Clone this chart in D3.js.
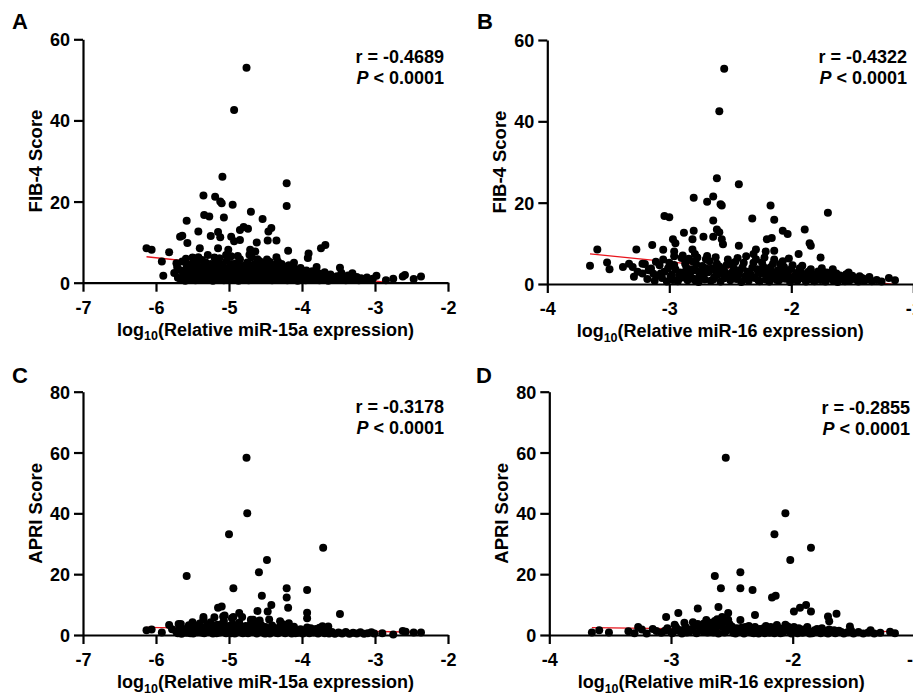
<!DOCTYPE html>
<html><head><meta charset="utf-8">
<script src="https://cdn.jsdelivr.net/npm/d3@7"></script>
<style>body{margin:0;background:#fff}svg{display:block}text{font-family:"Liberation Sans",Arial,sans-serif;font-weight:bold;fill:#000}</style>
</head><body>
<svg id="c" width="913" height="699"></svg>
<script>
// ---------- DATA ----------
const panelLabels = ["A","B","C","D"];
const yTitles = ["FIB-4 Score","FIB-4 Score","APRI Score","APRI Score"];
const xGenes = ["miR-15a","miR-16","miR-15a","miR-16"];
const rValues = ["-0.4689","-0.4322","-0.3178","-0.2855"];
const pText = "< 0.0001";
const xDomainsA = [-7,-2], xDomainsB = [-4,-1];
const xTicks15a = [-7,-6,-5,-4,-3,-2];
const xTicks16 = [-4,-3,-2,-1];
const yTicksFib = [0,20,40,60];
const yTicksApri = [0,20,40,60,80];

// fitted regression line end points [x,y]
const fitA = [[-6.13,6.4],[-2.37,-0.8]];
const fitB = [[-3.65,7.4],[-1.15,-0.1]];
const fitC = [[-6.13,2.5],[-2.37,0.9]];
const fitD = [[-3.65,2.4],[-1.16,1.1]];

const pointsA = [
[-4.76,53.0],[-4.93,42.6],[-5.09,26.1],[-4.21,24.5],[-4.21,18.9],[-5.35,21.5],[-5.19,21.2],[-5.12,20.0],[-4.95,19.2],[-5.10,19.6],
[-4.70,17.5],[-5.34,16.7],[-5.27,16.3],[-5.07,16.1],[-4.54,15.7],[-5.58,15.3],[-5.42,12.6],[-5.15,12.5],[-4.85,13.0],[-4.74,13.3],
[-4.80,13.7],[-4.42,13.5],[-4.46,12.6],[-5.67,11.3],[-5.64,11.6],[-5.25,11.5],[-5.12,11.2],[-4.97,11.3],[-4.93,10.2],[-4.85,10.5],
[-4.62,9.9],[-4.47,10.4],[-4.35,10.4],[-5.57,9.8],[-6.13,8.5],[-6.06,8.1],[-5.82,7.5],[-5.40,8.5],[-5.15,8.5],[-5.01,8.1],
[-4.71,8.1],[-4.64,7.7],[-4.19,7.9],[-3.68,9.3],[-3.74,8.5],[-3.91,7.2],[-3.92,6.1],[-4.35,6.3],[-5.92,5.2],[-5.90,1.7],
[-3.80,3.9],[-3.48,3.7],[-2.75,1.0],[-2.59,1.9],[-2.47,0.9],[-2.37,1.5],[-2.98,1.7],[-2.62,1.5],[-2.85,0.6],
[-5.75,2.4],[-5.72,4.8],[-5.70,1.2],[-5.68,3.1],[-5.66,0.8],[-5.64,5.2],[-5.62,2.0],[-5.60,0.5],[-5.58,3.8],[-5.57,1.5],
[-5.55,4.4],[-5.54,0.9],[-5.52,2.7],[-5.50,6.2],[-5.49,1.8],[-5.47,3.4],[-5.46,0.6],[-5.44,4.9],[-5.43,2.2],[-5.41,1.1],
[-5.40,3.9],[-5.38,0.7],[-5.37,5.6],[-5.36,2.9],[-5.34,1.6],[-5.33,4.2],[-5.31,0.9],[-5.30,3.2],[-5.29,6.8],[-5.27,2.1],
[-5.26,1.0],[-5.25,4.6],[-5.23,2.8],[-5.22,0.5],[-5.21,3.6],[-5.19,1.4],[-5.18,5.1],[-5.17,2.4],[-5.15,0.8],[-5.14,3.8],
[-5.13,6.0],[-5.11,1.7],[-5.10,2.9],[-5.09,4.4],[-5.07,0.6],[-5.06,3.3],[-5.05,1.9],[-5.03,5.4],[-5.02,2.5],[-5.01,0.9],
[-4.99,4.0],[-4.98,1.3],[-4.97,6.5],[-4.95,2.7],[-4.94,0.7],[-4.93,3.5],[-4.91,1.6],[-4.90,4.8],[-4.89,2.2],[-4.87,0.5],
[-4.86,3.0],[-4.85,5.8],[-4.83,1.2],[-4.82,2.6],[-4.81,4.1],[-4.79,0.8],[-4.78,3.4],[-4.77,1.8],[-4.75,5.0],[-4.74,2.3],
[-4.73,0.6],[-4.71,3.7],[-4.70,1.4],[-4.69,6.3],[-4.67,2.0],[-4.66,4.5],[-4.65,0.9],[-4.63,2.9],[-4.62,1.5],[-4.60,3.9],
[-4.59,0.7],[-4.58,5.3],[-4.56,2.4],[-4.55,1.1],[-4.53,3.2],[-4.52,4.6],[-4.50,0.8],[-4.49,2.1],[-4.47,3.6],[-4.46,1.3],
[-4.44,5.1],[-4.43,2.5],[-4.41,0.6],[-4.40,3.0],[-4.38,1.7],[-4.37,4.2],[-4.35,0.9],[-4.34,2.6],[-4.32,1.4],[-4.30,3.5],
[-4.29,0.7],[-4.27,2.2],[-4.25,4.0],[-4.24,1.1],[-4.22,2.8],[-4.20,0.6],[-4.19,3.3],[-4.17,1.6],[-4.15,2.4],[-4.14,0.8],
[-4.12,3.8],[-4.10,1.3],[-4.08,2.0],[-4.06,0.5],[-4.05,2.9],[-4.03,1.5],[-4.01,0.9],[-3.99,2.3],[-3.97,1.2],[-3.95,0.6],
[-3.93,1.9],[-3.91,1.0],[-3.89,2.6],[-3.87,0.7],[-3.85,1.5],[-3.83,0.9],[-3.81,2.1],[-3.79,1.2],[-3.76,0.6],[-3.74,1.7],
[-3.71,0.9],[-3.69,2.6],[-3.66,1.1],[-3.64,0.5],[-3.61,2.0],[-3.58,1.3],[-3.55,0.7],[-3.52,1.6],[-3.49,0.9],[-3.46,2.4],
[-3.43,1.2],[-3.40,0.6],[-3.37,1.8],[-3.34,1.0],[-3.31,2.3],[-3.28,0.8],[-3.25,1.4],[-3.22,0.6],[-3.19,1.1],[-3.15,0.8],
[-3.11,1.3],[-3.07,0.7],[-3.03,1.0],
[-5.71,3.9],[-5.63,2.9],[-5.59,5.9],[-5.56,2.2],[-5.51,3.8],[-5.48,5.3],[-5.45,1.4],[-5.42,6.3],[-5.39,2.5],[-5.35,3.6],
[-5.32,5.0],[-5.28,1.3],[-5.24,3.4],[-5.20,6.2],[-5.16,4.4],[-5.12,1.2],[-5.08,3.6],[-5.04,6.8],[-5.00,1.6],[-4.96,4.6],
[-4.92,2.4],[-4.88,6.6],[-4.84,3.8],[-4.80,1.9],[-4.76,4.4],[-4.72,6.9],[-4.68,1.1],[-4.64,3.4],[-4.61,5.8],[-4.57,1.9],
[-4.54,4.0],[-4.51,2.8],[-4.48,5.7],[-4.45,1.8],[-4.42,4.5],[-4.39,2.3],[-4.36,3.8],[-4.33,5.2],[-4.31,2.0],[-4.28,4.6],
[-4.26,1.5],[-4.23,3.5],[-4.21,2.1],[-4.18,4.3],[-4.16,1.2],[-4.13,2.7],[-4.11,4.9],[-4.09,1.8],[-4.07,3.2],[-4.04,2.2],
[-4.02,3.6],[-3.98,1.8],[-3.94,3.0],[-3.90,1.6],[-3.86,2.8],[-3.82,1.4],[-3.78,2.4],[-3.72,1.9],[-3.67,1.6],[-3.60,1.0]
];
const pointsB = [
[-2.55,52.9],[-2.59,42.5],[-2.61,26.0],[-2.43,24.5],[-2.80,21.2],[-2.64,21.5],[-2.69,20.2],[-2.58,19.6],[-2.57,19.3],[-2.17,19.3],
[-1.70,17.5],[-3.04,16.7],[-3.00,16.4],[-2.32,16.1],[-2.14,15.8],[-2.64,15.6],[-2.61,13.4],[-2.59,12.7],[-2.07,13.1],[-2.03,12.3],
[-1.89,13.4],[-2.80,13.1],[-2.88,12.6],[-2.81,11.0],[-2.72,11.6],[-2.64,11.6],[-2.57,11.0],[-2.20,11.0],[-2.16,11.3],[-2.97,11.0],
[-2.95,10.0],[-3.14,9.6],[-2.56,9.8],[-2.43,9.4],[-1.85,10.0],[-1.84,9.4],[-3.27,8.5],[-3.59,8.5],[-3.05,8.4],[-2.81,8.5],
[-2.79,7.4],[-2.29,8.5],[-2.31,7.4],[-2.14,8.2],[-2.21,8.0],[-1.94,7.4],[-2.96,8.0],[-1.76,6.5],[-2.02,6.3],[-1.91,4.5],
[-3.65,4.5],[-3.51,5.3],[-3.49,3.6],[-3.38,4.2],[-3.33,5.0],[-3.29,1.8],[-3.22,5.0],[-1.66,3.6],[-1.53,2.8],[-1.36,1.7],
[-1.20,1.5],[-1.15,0.9],
[-3.22,2.6],[-3.18,1.2],[-3.15,3.8],[-3.12,0.8],[-3.10,2.0],[-3.08,4.6],[-3.06,1.5],[-3.04,3.0],[-3.02,0.6],[-3.00,5.2],
[-2.98,2.3],[-2.97,1.0],[-2.95,3.6],[-2.93,0.7],[-2.91,2.8],[-2.90,6.4],[-2.88,1.6],[-2.86,4.0],[-2.85,0.9],[-2.83,2.5],
[-2.81,5.6],[-2.80,1.3],[-2.78,3.3],[-2.76,0.5],[-2.75,2.1],[-2.73,4.4],[-2.71,1.1],[-2.70,6.1],[-2.68,2.9],[-2.66,0.8],
[-2.65,3.9],[-2.63,1.7],[-2.61,5.0],[-2.60,2.4],[-2.58,0.6],[-2.56,3.5],[-2.55,1.4],[-2.53,4.7],[-2.51,2.2],[-2.50,0.9],
[-2.48,3.1],[-2.46,5.4],[-2.45,1.2],[-2.43,2.7],[-2.41,0.5],[-2.40,4.1],[-2.38,1.8],[-2.36,3.0],[-2.35,0.8],[-2.33,2.3],
[-2.31,5.2],[-2.30,1.5],[-2.28,3.6],[-2.26,0.7],[-2.25,2.6],[-2.23,4.3],[-2.21,1.1],[-2.20,3.2],[-2.18,0.6],[-2.16,2.0],
[-2.15,5.0],[-2.13,1.6],[-2.11,3.4],[-2.10,0.9],[-2.08,2.5],[-2.06,4.2],[-2.05,1.3],[-2.03,2.9],[-2.01,0.5],[-2.00,3.7],
[-1.98,1.8],[-1.96,2.7],[-1.95,0.8],[-1.93,3.9],[-1.91,1.4],[-1.90,2.2],[-1.88,0.6],[-1.86,3.0],[-1.85,1.2],[-1.83,2.4],
[-1.81,0.7],[-1.80,1.9],[-1.78,3.1],[-1.76,1.0],[-1.74,2.2],[-1.72,0.6],[-1.70,1.6],[-1.68,2.6],[-1.66,0.9],[-1.64,1.8],
[-1.62,0.5],[-1.60,2.1],[-1.58,1.2],[-1.56,0.7],[-1.54,1.6],[-1.52,0.9],[-1.50,2.0],[-1.47,1.1],[-1.45,0.6],[-1.42,1.5],
[-1.40,0.8],[-1.38,1.2],[-1.34,0.7],[-1.30,1.0],[-1.26,0.6],
[-2.99,1.8],[-2.92,1.3],[-2.87,2.9],[-2.79,0.9],[-2.72,2.0],[-2.64,1.1],[-2.57,2.7],[-2.49,1.5],[-2.42,3.4],[-2.34,1.9],
[-2.27,0.9],[-2.19,2.4],[-2.12,1.0],[-2.04,1.9],[-1.97,1.1],[-1.89,1.7],[-1.82,0.9],
[-3.30,4.2],[-3.26,3.0],[-3.20,4.9],[-3.13,2.5],[-3.05,6.0],[-2.96,6.8],[-2.89,7.0],[-2.84,6.2],[-2.77,6.5],[-2.69,6.9],
[-2.62,6.6],[-2.52,6.0],[-2.44,6.4],[-2.37,6.8],[-2.29,6.1],[-2.22,6.5],[-2.14,6.0],[-2.07,5.6],
[-3.17,3.4],[-3.11,5.5],[-3.07,2.6],[-3.01,3.9],[-2.96,4.7],[-2.92,2.2],[-2.87,5.0],[-2.82,3.6],[-2.78,4.9],[-2.74,2.8],
[-2.70,3.9],[-2.67,5.6],[-2.62,3.2],[-2.59,4.3],[-2.54,2.8],[-2.50,5.0],[-2.47,3.8],[-2.44,1.9],[-2.39,5.2],[-2.35,2.6],
[-2.32,4.0],[-2.27,2.9],[-2.24,5.3],[-2.20,1.9],[-2.17,4.1],[-2.14,2.8],[-2.09,4.9],[-2.05,3.4],[-2.02,1.8],[-1.99,4.6],
[-1.96,1.8],[-1.92,3.0],[-1.87,2.0],[-1.84,3.6],[-1.79,2.5],[-1.75,3.9],[-1.71,2.8],[-1.67,1.4],[-1.63,2.6],[-1.59,1.6],
[-1.55,2.4],[-1.49,1.4],[-1.44,1.9]
];
const pointsC = [
[-4.76,58.3],[-4.75,40.0],[-5.00,33.1],[-3.71,28.7],[-4.48,24.7],[-4.59,20.6],[-5.58,19.4],[-4.94,15.4],[-4.21,15.4],[-3.93,14.8],
[-4.55,12.9],[-4.21,12.3],[-4.42,9.9],[-4.19,9.0],[-5.15,9.0],[-5.10,9.4],[-4.61,7.9],[-4.47,7.7],[-3.93,7.3],[-3.93,5.5],
[-3.48,6.9],[-4.86,7.2],[-5.35,5.9],[-4.94,5.9],[-5.06,6.4],[-4.67,5.0],[-6.13,1.6],[-6.06,1.8],[-5.92,0.8],[-5.82,3.3],
[-5.69,3.6],[-2.75,0.2],[-2.62,1.3],[-2.47,0.8],[-2.37,0.8],[-3.64,2.8],[-2.58,1.1],[-2.90,0.6],
[-5.72,1.0],[-5.68,2.6],[-5.65,0.4],[-5.62,1.8],[-5.58,0.7],[-5.55,3.2],[-5.52,1.2],[-5.49,0.5],[-5.46,2.4],[-5.43,0.9],
[-5.40,3.8],[-5.37,1.5],[-5.34,0.6],[-5.31,2.8],[-5.28,1.1],[-5.25,4.2],[-5.22,0.5],[-5.19,2.0],[-5.16,3.4],[-5.13,0.8],
[-5.10,1.7],[-5.07,4.6],[-5.04,0.6],[-5.01,2.5],[-4.98,1.2],[-4.95,3.6],[-4.92,0.5],[-4.89,2.1],[-4.86,4.0],[-4.83,0.9],
[-4.80,1.6],[-4.77,3.0],[-4.74,0.6],[-4.71,2.3],[-4.68,1.0],[-4.65,4.4],[-4.62,0.5],[-4.59,1.9],[-4.56,3.3],[-4.53,0.8],
[-4.50,2.6],[-4.47,1.3],[-4.44,0.5],[-4.41,3.1],[-4.38,1.7],[-4.35,0.7],[-4.32,2.4],[-4.29,1.1],[-4.26,3.5],[-4.23,0.6],
[-4.20,2.0],[-4.17,1.2],[-4.14,0.5],[-4.11,2.7],[-4.08,1.4],[-4.05,0.7],[-4.02,1.9],[-3.99,0.5],[-3.96,1.3],[-3.93,2.5],
[-3.90,0.6],[-3.87,1.5],[-3.84,0.8],[-3.81,2.0],[-3.78,0.5],[-3.75,1.2],[-3.72,2.9],[-3.69,0.6],[-3.66,1.4],[-3.63,0.5],
[-3.59,1.0],[-3.55,0.4],[-3.50,0.8],[-3.45,0.5],[-3.40,1.0],[-3.35,0.4],[-3.30,0.7],[-3.25,0.5],[-3.20,0.9],[-3.15,0.4],
[-3.10,0.6],[-3.05,0.9],[-3.01,0.5],
[-5.35,5.2],[-5.20,5.8],[-5.08,6.1],[-4.96,5.5],[-4.82,5.9],[-4.70,5.0],[-4.58,4.8],[-4.45,5.1],[-4.30,4.5],[-4.18,3.9],
[-5.50,4.2],[-5.66,3.6],[-5.78,1.9],[-5.61,0.9],[-5.27,2.3],[-5.14,1.5],[-4.99,0.9],[-4.88,2.9],[-4.73,1.8],[-4.61,2.9],
[-4.49,0.6],[-4.36,2.0],[-4.24,1.6],[-4.12,0.9],[-4.00,1.6],[-3.88,2.2],[-3.76,2.4],
[-5.70,0.6],[-5.64,1.4],[-5.57,2.2],[-5.53,0.6],[-5.47,1.5],[-5.42,2.7],[-5.38,0.8],[-5.33,1.9],[-5.29,3.4],[-5.24,1.0],
[-5.20,2.9],[-5.17,0.6],[-5.12,2.4],[-5.09,3.8],[-5.05,1.4],[-5.00,3.0],[-4.97,0.6],[-4.93,2.4],[-4.90,1.0],[-4.85,3.1],
[-4.81,0.6],[-4.78,2.1],[-4.75,1.2],[-4.70,3.6],[-4.66,1.6],[-4.63,2.5],[-4.57,1.0],[-4.54,2.2],[-4.51,0.5],[-4.46,2.0],
[-4.42,1.0],[-4.39,2.4],[-4.33,0.6],[-4.28,1.8],[-4.22,2.8],[-4.15,1.6],[-4.09,0.6],[-4.03,1.0],[-3.97,0.8],[-3.91,1.6]
];
const pointsD = [
[-2.55,58.3],[-2.06,40.0],[-2.15,33.1],[-1.85,28.7],[-2.02,24.7],[-2.43,20.6],[-2.64,19.4],[-2.59,15.4],[-2.43,15.4],[-2.33,14.8],
[-2.14,12.9],[-2.17,12.3],[-1.89,9.9],[-1.94,9.0],[-2.61,9.2],[-2.78,8.7],[-1.99,7.7],[-1.85,7.7],[-1.64,7.0],[-1.71,6.1],
[-2.31,6.6],[-2.53,7.2],[-2.94,7.2],[-3.04,5.9],[-2.58,5.9],[-2.43,4.9],[-1.70,4.5],[-3.65,0.8],[-3.59,1.6],[-3.51,0.8],
[-3.27,2.6],[-3.15,2.0],[-1.53,2.8],[-1.36,1.6],[-1.20,1.1],[-1.16,0.6],
[-3.35,1.2],[-3.30,0.6],[-3.24,1.8],[-3.20,0.5],[-3.12,1.3],[-3.08,0.7],[-3.03,2.2],[-3.00,0.9],[-2.97,3.4],[-2.94,1.4],
[-2.91,0.5],[-2.88,2.6],[-2.85,1.0],[-2.82,4.2],[-2.79,0.6],[-2.76,2.0],[-2.73,3.8],[-2.70,0.8],[-2.67,1.6],[-2.64,4.6],
[-2.61,0.5],[-2.58,2.8],[-2.55,1.2],[-2.52,3.6],[-2.49,0.7],[-2.46,2.2],[-2.43,1.0],[-2.40,0.5],[-2.37,1.8],[-2.34,0.8],
[-2.31,2.6],[-2.28,0.5],[-2.25,1.4],[-2.22,3.0],[-2.19,0.7],[-2.16,1.9],[-2.13,3.3],[-2.10,0.6],[-2.07,1.5],[-2.04,2.8],
[-2.01,0.5],[-1.98,1.2],[-1.95,2.2],[-1.92,0.7],[-1.89,1.6],[-1.86,0.5],[-1.83,1.1],[-1.80,2.0],[-1.77,0.6],[-1.74,1.3],
[-1.71,0.5],[-1.68,1.0],[-1.65,0.6],[-1.62,1.4],[-1.58,0.5],[-1.55,0.9],[-1.50,0.5],[-1.46,1.0],[-1.42,0.5],[-1.38,0.8],
[-1.33,0.5],[-1.28,0.7],
[-2.95,2.0],[-2.89,4.0],[-2.80,3.0],[-2.71,4.9],[-2.66,3.1],[-2.62,5.2],[-2.57,4.2],[-2.53,5.0],[-2.48,1.8],[-2.42,2.4],
[-2.36,3.0],[-2.30,1.4],[-2.24,2.2],[-2.18,2.6],[-2.12,1.2],[-2.06,3.4],[-2.00,1.8],[-1.94,1.0],[-1.88,2.6],[-1.82,1.6],
[-1.76,2.2],[-1.70,1.8],[-1.60,1.0],[-1.52,1.5],
[-3.05,1.4],[-2.99,0.6],[-2.96,2.6],[-2.92,1.6],[-2.87,0.8],[-2.83,2.0],[-2.78,3.6],[-2.74,1.2],[-2.72,2.6],[-2.68,4.0],
[-2.65,0.8],[-2.63,2.4],[-2.59,3.4],[-2.56,0.8],[-2.54,1.8],[-2.50,2.8],[-2.47,0.5],[-2.44,1.6],[-2.39,2.6],[-2.35,1.2],
[-2.32,0.6],[-2.27,2.0],[-2.23,0.6],[-2.20,1.6],[-2.15,0.6],[-2.11,2.2],[-2.08,0.8],[-2.03,1.2],[-1.99,2.6],[-1.96,0.6],
[-1.91,1.8],[-1.87,1.2],[-1.84,0.6],[-1.79,1.2],[-1.73,0.8],[-1.66,1.6]
];

// ---------- LAYOUT ----------
const panels = [
 {pts:pointsA, fit:fitA, xd:xDomainsA, xt:xTicks15a, yd:[0,60], yt:yTicksFib, px:[83,448], py:[282.7,39.3], lab:[12,29], stat:[444,63]},
 {pts:pointsB, fit:fitB, xd:xDomainsB, xt:xTicks16, yd:[0,60], yt:yTicksFib, px:[547.3,913.3], py:[284,40], lab:[477,29], stat:[907,63]},
 {pts:pointsC, fit:fitC, xd:xDomainsA, xt:xTicks15a, yd:[0,80], yt:yTicksApri, px:[83,448], py:[635,391.7], lab:[12,383], stat:[444,413]},
 {pts:pointsD, fit:fitD, xd:xDomainsB, xt:xTicks16, yd:[0,80], yt:yTicksApri, px:[549.3,914.4], py:[635,391.7], lab:[476,383], stat:[910,414]}
];
const FS = 18;
const svg = d3.select("#c");
panels.forEach((p,i)=>{
  const x = d3.scaleLinear().domain(p.xd).range(p.px);
  const y = d3.scaleLinear().domain(p.yd).range(p.py);
  const g = svg.append("g");
  const cid = "clip"+i;
  svg.append("clipPath").attr("id",cid).append("rect")
    .attr("x",p.px[0]).attr("y",p.py[1]-10).attr("width",p.px[1]-p.px[0]).attr("height",p.py[0]-p.py[1]+10);

  // regression line (behind the points)
  g.append("line").attr("clip-path",`url(#${cid})`)
    .attr("x1",x(p.fit[0][0])).attr("y1",y(p.fit[0][1]))
    .attr("x2",x(p.fit[1][0])).attr("y2",y(p.fit[1][1]))
    .attr("stroke","#e8141c").attr("stroke-width",1.3);

  g.append("g").selectAll("circle").data(p.pts).join("circle")
    .attr("cx",d=>x(d[0])).attr("cy",d=>y(d[1])).attr("r",4).attr("fill","#000");

  const fmt = d => String(d);
  const xa = g.append("g").attr("transform",`translate(0,${p.py[0]})`)
    .call(d3.axisBottom(x).tickValues(p.xt).tickSize(9).tickSizeOuter(0).tickFormat(fmt));
  const ya = g.append("g").attr("transform",`translate(${p.px[0]},0)`)
    .call(d3.axisLeft(y).tickValues(p.yt).tickSize(9).tickSizeOuter(0).tickFormat(fmt));
  [xa,ya].forEach(a=>{
    a.select(".domain").attr("stroke","#000").attr("stroke-width",2.2);
    a.selectAll(".tick line").attr("stroke","#000").attr("stroke-width",2.2);
    a.selectAll(".tick text").attr("font-size",FS).attr("font-weight","bold")
      .attr("font-family","'Liberation Sans',Arial,sans-serif").attr("fill","#000");
  });
  xa.selectAll(".tick text").attr("dy",null).attr("y",31);
  ya.selectAll(".tick text").attr("x",-13).attr("dy","0.36em");

  svg.append("text").attr("x",p.lab[0]).attr("y",p.lab[1]).attr("font-size",22).attr("font-weight",900).text(panelLabels[i]);

  svg.append("text").attr("transform",`translate(${p.px[0]-41},${(p.py[0]+p.py[1])/2}) rotate(-90)`)
    .attr("text-anchor","middle").attr("font-size",18.5).text(yTitles[i]);

  const xt = svg.append("text").attr("x",(p.px[0]+Math.min(p.px[1],913))/2 + (i%2? -10:0)).attr("y",p.py[0]+53)
    .attr("text-anchor","middle").attr("font-size",FS);
  xt.append("tspan").text("log");
  xt.append("tspan").attr("font-size",12.5).attr("dy",4.5).text("10");
  xt.append("tspan").attr("dy",-4.5).text("(Relative "+xGenes[i]+" expression)");

  svg.append("text").attr("x",p.stat[0]).attr("y",p.stat[1]).attr("text-anchor","end").attr("font-size",FS)
    .text("r = "+rValues[i]);
  const pt = svg.append("text").attr("x",p.stat[0]).attr("y",p.stat[1]+20.5).attr("text-anchor","end").attr("font-size",FS);
  pt.append("tspan").attr("font-style","italic").text("P");
  pt.append("tspan").text(" "+pText);
});
</script>
</body></html>
